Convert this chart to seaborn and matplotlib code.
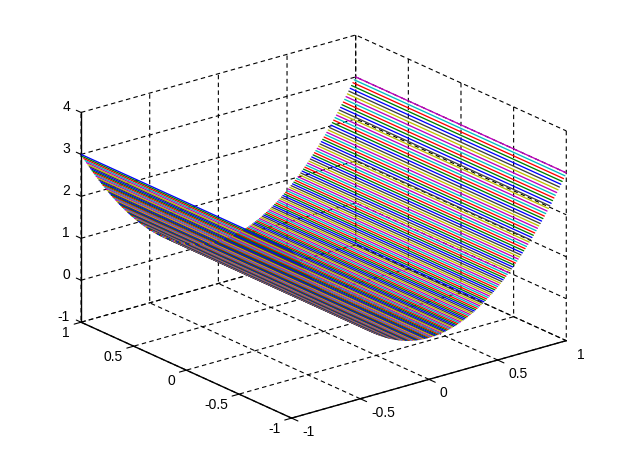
import matplotlib

matplotlib.use("Agg")
import matplotlib.pyplot as plt
from mpl_toolkits.mplot3d import proj3d
import seaborn as sns

# cross-section of the sheet read along x = 0 .. 1, the left half is its mirror
x_half = [
    0.00, 0.01, 0.02, 0.03, 0.04, 0.05, 0.06, 0.07, 0.08, 0.09,
    0.10, 0.11, 0.12, 0.13, 0.14, 0.15, 0.16, 0.17, 0.18, 0.19,
    0.20, 0.21, 0.22, 0.23, 0.24, 0.25, 0.26, 0.27, 0.28, 0.29,
    0.30, 0.31, 0.32, 0.33, 0.34, 0.35, 0.36, 0.37, 0.38, 0.39,
    0.40, 0.41, 0.42, 0.43, 0.44, 0.45, 0.46, 0.47, 0.48, 0.49,
    0.50, 0.51, 0.52, 0.53, 0.54, 0.55, 0.56, 0.57, 0.58, 0.59,
    0.60, 0.61, 0.62, 0.63, 0.64, 0.65, 0.66, 0.67, 0.68, 0.69,
    0.70, 0.71, 0.72, 0.73, 0.74, 0.75, 0.76, 0.77, 0.78, 0.79,
    0.80, 0.81, 0.82, 0.83, 0.84, 0.85, 0.86, 0.87, 0.88, 0.89,
    0.90, 0.91, 0.92, 0.93, 0.94, 0.95, 0.96, 0.97, 0.98, 0.99,
    1.00,
]
z_half = [
    0.000, 0.000, 0.001, 0.003, 0.005, 0.008, 0.011, 0.015, 0.019, 0.024,
    0.030, 0.036, 0.043, 0.051, 0.059, 0.068, 0.077, 0.087, 0.097, 0.108,
    0.120, 0.132, 0.145, 0.159, 0.173, 0.188, 0.203, 0.219, 0.235, 0.252,
    0.270, 0.288, 0.307, 0.327, 0.347, 0.368, 0.389, 0.411, 0.433, 0.456,
    0.480, 0.504, 0.529, 0.555, 0.581, 0.608, 0.635, 0.663, 0.691, 0.720,
    0.750, 0.780, 0.811, 0.843, 0.875, 0.908, 0.941, 0.975, 1.009, 1.044,
    1.080, 1.116, 1.153, 1.191, 1.229, 1.268, 1.307, 1.347, 1.387, 1.428,
    1.470, 1.512, 1.555, 1.599, 1.643, 1.688, 1.733, 1.779, 1.825, 1.872,
    1.920, 1.968, 2.017, 2.067, 2.117, 2.168, 2.219, 2.271, 2.323, 2.376,
    2.430, 2.484, 2.539, 2.595, 2.651, 2.708, 2.765, 2.823, 2.881, 2.940,
    3.000,
]
y_ends = [-1, 1]

xy_ticks = [-1, -0.5, 0, 0.5, 1]
xy_tick_labels = ["-1", "-0.5", "0", "0.5", "1"]
z_ticks = [-1, 0, 1, 2, 3, 4]
z_tick_labels = ["-1", "0", "1", "2", "3", "4"]
line_colors = ["#0000ff", "#007f00", "#ff0000", "#00bfbf", "#bf00bf", "#bfbf00", "#3f3f3f"]

x_levels = [-v for v in x_half[:0:-1]] + x_half
z_levels = z_half[:0:-1] + z_half

sns.set_style("ticks")
plt.rcParams["font.family"] = ["Liberation Sans", "DejaVu Sans"]

W, H = 625, 469
side = 500
fig = plt.figure(figsize=(W / 100, H / 100), dpi=100)
ax = fig.add_axes(
    [66.9 / W, -14.3 / H, side / W, side / H],
    projection="3d",
    proj_type="ortho",
    computed_zorder=False,
)
ax.view_init(elev=21.0, azim=-128.2)
ax.set_box_aspect((350, 341, 225), zoom=1.043)
ax.patch.set_alpha(0)

palette = sns.color_palette(line_colors)
for i, (x, z) in enumerate(zip(x_levels, z_levels)):
    ax.plot(
        [x, x], y_ends, [z, z],
        color=palette[i % len(palette)],
        lw=0.95,
        antialiased=True,
    )

ax.set_xlim(-1, 1, view_margin=0)
ax.set_ylim(-1, 1, view_margin=0)
ax.set_zlim(-1, 4, view_margin=0)
ax.set_xticks(xy_ticks)
ax.set_yticks(xy_ticks)
ax.set_zticks(z_ticks)
ax.set_xticklabels([])
ax.set_yticklabels([])
ax.set_zticklabels([])

for axis in (ax.xaxis, ax.yaxis, ax.zaxis):
    axis.set_pane_color((1, 1, 1, 0))
    axis.pane.set_edgecolor("none")
    axis.line.set_color("black")
    axis.line.set_linewidth(1.0)
    axis._axinfo["grid"].update(color="black", linewidth=0.8, linestyle=(0, (4, 3)))
    axis._axinfo["tick"].update(inward_factor=0.0, outward_factor=0.0)

# tick labels placed next to the projected tick positions, like the original renderer does
proj = ax.get_proj()


def label_tick(x, y, z, text, dx, dy, ha):
    px, py, _ = proj3d.proj_transform(x, y, z, proj)
    ax.annotate(
        text, (px, py), xytext=(dx, dy), textcoords="offset pixels",
        ha=ha, va="center", fontsize=10, color="black", annotation_clip=False,
    )


def tick_mark(start, end):
    ax.plot(*zip(start, end), color="black", lw=0.8)


for v, text in zip(xy_ticks, xy_tick_labels):
    tick_mark((v, -1, -1), (v, -1.06, -1))
    tick_mark((-1, v, -1), (-1.05, v, -1))
    label_tick(v, -1, -1, text, 11, -14, "left")
    label_tick(-1, v, -1, text, -11, -11, "right")
for v, text in zip(z_ticks, z_tick_labels):
    tick_mark((-1, 1, v), (-1, 1.045, v))
    label_tick(-1, 1, v, text, -11, 5, "right")

fig.savefig("out.png", dpi=100)
plt.close(fig)
